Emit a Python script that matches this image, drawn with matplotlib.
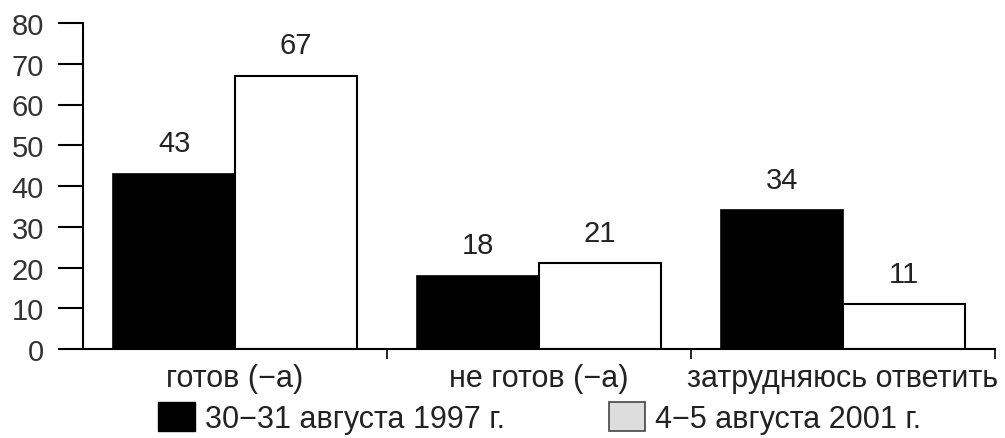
import matplotlib.pyplot as plt
from matplotlib.patches import Patch
import numpy as np

categories = ['готов (−а)', 'не готов (−а)', 'затрудняюсь ответить']
series_1997 = [43, 18, 34]
series_2001 = [67, 21, 11]
labels = ['30−31 августа 1997 г.', '4−5 августа 2001 г.']

plt.rcParams['font.family'] = ['Liberation Sans', 'DejaVu Sans']

fig = plt.figure(figsize=(10.05, 4.39), dpi=100)
ax = fig.add_axes([83 / 1005, 89 / 439, 912 / 1005, 326 / 439])

x = np.arange(len(categories))
w = 0.4
b1 = ax.bar(x - w / 2, series_1997, w, color='black', edgecolor='black', linewidth=1.2)
b2 = ax.bar(x + w / 2, series_2001, w, color='white', edgecolor='black', linewidth=1.5)

# value labels above bars
for bars in (b1, b2):
    for rect in bars:
        h = rect.get_height()
        ax.annotate(str(int(h)), (rect.get_x() + rect.get_width() / 2, h),
                    xytext=(0, 12), textcoords='offset points',
                    ha='center', va='bottom', fontsize=21, color='#222222')

ax.set_xlim(-0.5, 2.5)
ax.set_ylim(0, 80)
ax.set_yticks(range(0, 81, 10))
ax.tick_params(axis='y', direction='out', length=18, width=1.5, labelsize=21,
               labelcolor='#333333', pad=10)

ax.set_xticks([0.5, 1.5, 2.5])
ax.set_xticklabels([])
ax.set_xticks(x, minor=True)
ax.set_xticklabels(categories, minor=True)
ax.tick_params(axis='x', which='major', direction='out', length=7, width=1.2)
ax.tick_params(axis='x', which='minor', length=0, labelsize=22, labelcolor='#222222', pad=10)

for s in ('top', 'right'):
    ax.spines[s].set_visible(False)
for s in ('left', 'bottom'):
    ax.spines[s].set_linewidth(1.5)

handles = [Patch(facecolor='black', edgecolor='black'),
           Patch(facecolor='#dddddd', edgecolor='#444444', linewidth=1.2)]
fig.legend(handles, labels, loc='center left', bbox_to_anchor=(158 / 1005, 20 / 439),
           ncol=2, frameon=False, fontsize=22, handlelength=1.2, handleheight=1.1,
           handletextpad=0.33, columnspacing=3.4, borderpad=0, borderaxespad=0,
           labelcolor='#222222')

fig.savefig('out.png', dpi=100)
